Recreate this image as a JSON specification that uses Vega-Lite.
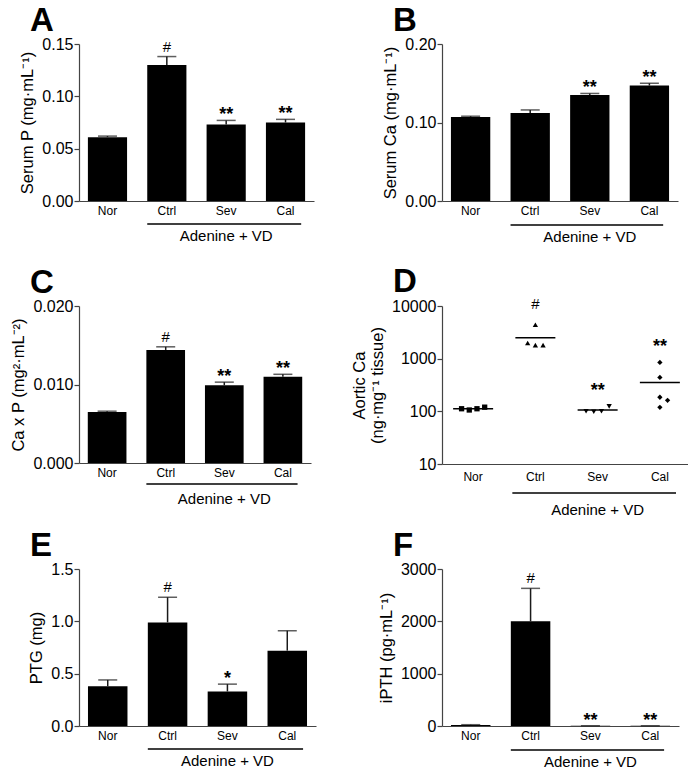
{
  "$schema": "https://vega.github.io/schema/vega-lite/v6.json",
  "background": "white",
  "padding": {"left": 10, "top": 5, "right": 0, "bottom": 0},
  "datasets": {
    "A": [
      {"group": "Nor", "mean": 0.061, "upper": 0.062, "sig": ""},
      {"group": "Ctrl", "mean": 0.130, "upper": 0.138, "sig": "#"},
      {"group": "Sev", "mean": 0.073, "upper": 0.077, "sig": "**"},
      {"group": "Cal", "mean": 0.075, "upper": 0.078, "sig": "**"}
    ],
    "B": [
      {"group": "Nor", "mean": 0.107, "upper": 0.108, "sig": ""},
      {"group": "Ctrl", "mean": 0.112, "upper": 0.116, "sig": ""},
      {"group": "Sev", "mean": 0.135, "upper": 0.137, "sig": "**"},
      {"group": "Cal", "mean": 0.147, "upper": 0.150, "sig": "**"}
    ],
    "C": [
      {"group": "Nor", "mean": 0.0065, "upper": 0.0066, "sig": ""},
      {"group": "Ctrl", "mean": 0.0144, "upper": 0.0148, "sig": "#"},
      {"group": "Sev", "mean": 0.0099, "upper": 0.0103, "sig": "**"},
      {"group": "Cal", "mean": 0.0110, "upper": 0.0113, "sig": "**"}
    ],
    "D": [
      {"group": "Nor", "value": 112, "jit": -1.5, "sig": ""},
      {"group": "Nor", "value": 106, "jit": -0.5, "sig": ""},
      {"group": "Nor", "value": 112, "jit": 0.5, "sig": ""},
      {"group": "Nor", "value": 120, "jit": 1.5, "sig": ""},
      {"group": "Ctrl", "value": 4420, "jit": 0, "sig": "#"},
      {"group": "Ctrl", "value": 1980, "jit": -1, "sig": "#"},
      {"group": "Ctrl", "value": 1810, "jit": 0, "sig": "#"},
      {"group": "Ctrl", "value": 1810, "jit": 1, "sig": "#"},
      {"group": "Sev", "value": 100, "jit": -1.5, "sig": "**"},
      {"group": "Sev", "value": 98, "jit": -0.5, "sig": "**"},
      {"group": "Sev", "value": 100, "jit": 0.5, "sig": "**"},
      {"group": "Sev", "value": 124, "jit": 1.5, "sig": "**"},
      {"group": "Cal", "value": 850, "jit": 0, "sig": "**"},
      {"group": "Cal", "value": 440, "jit": 0, "sig": "**"},
      {"group": "Cal", "value": 185, "jit": 0, "sig": "**"},
      {"group": "Cal", "value": 162, "jit": 1, "sig": "**"},
      {"group": "Cal", "value": 119, "jit": 0, "sig": "**"}
    ],
    "E": [
      {"group": "Nor", "mean": 0.38, "upper": 0.44, "sig": ""},
      {"group": "Ctrl", "mean": 0.99, "upper": 1.23, "sig": "#"},
      {"group": "Sev", "mean": 0.33, "upper": 0.40, "sig": "*"},
      {"group": "Cal", "mean": 0.72, "upper": 0.91, "sig": ""}
    ],
    "F": [
      {"group": "Nor", "mean": 20, "upper": 25, "sig": ""},
      {"group": "Ctrl", "mean": 2000, "upper": 2630, "sig": "#"},
      {"group": "Sev", "mean": 5, "upper": 5, "sig": "**"},
      {"group": "Cal", "mean": 5, "upper": 5, "sig": "**"}
    ],
    "cohort": [
      {"first": "Ctrl", "mid": "Sev", "last": "Cal", "label": "Adenine + VD"}
    ]
  },
  "columns": 2,
  "bounds": "flush",
  "align": "each",
  "spacing": {"row": 105, "column": 126},
  "concat": [
    {
      "width": 235, "height": 157,
      "title": "A",
      "data": {"name": "A"},
      "encoding": {"x": {"field": "group", "type": "nominal", "scale": {"type": "band", "domain": ["Nor", "Ctrl", "Sev", "Cal"], "paddingInner": 0.34, "paddingOuter": 0.15}, "axis": {"title": null}}},
      "layer": [
        {"mark": {"type": "bar", "color": "#000"}, "encoding": {"y": {"field": "mean", "type": "quantitative", "scale": {"domain": [0, 0.15], "nice": false}, "axis": {"values": [0, 0.05, 0.1, 0.15], "format": ".2f", "title": "Serum P (mg·mL⁻¹)"}}}},
        {"mark": {"type": "rule", "color": "#1a1a1a", "strokeWidth": 1.5}, "encoding": {"y": {"field": "mean", "type": "quantitative"}, "y2": {"field": "upper"}}},
        {"mark": {"type": "tick", "color": "#1a1a1a", "size": 19, "thickness": 1.5}, "encoding": {"y": {"field": "upper", "type": "quantitative"}}},
        {"mark": {"type": "text", "baseline": "alphabetic", "dy": {"expr": "datum.sig == '#' ? -5 : 0"}, "fontSize": {"expr": "datum.sig == '#' ? 15 : 18"}, "fontWeight": {"expr": "datum.sig == '#' ? 'normal' : 'bold'"}}, "encoding": {"y": {"field": "upper", "type": "quantitative"}, "text": {"field": "sig"}}},
        {"data": {"name": "cohort"}, "mark": {"type": "rule", "y": "height", "yOffset": 23, "strokeWidth": 1.5, "color": "#000"}, "encoding": {"x": {"field": "first", "type": "nominal", "bandPosition": 0}, "x2": {"field": "last", "bandPosition": 0.9}}},
        {"data": {"name": "cohort"}, "mark": {"type": "text", "y": "height", "yOffset": 35, "fontSize": 15, "baseline": "middle"}, "encoding": {"x": {"field": "mid", "type": "nominal"}, "text": {"field": "label"}}}
      ]
    },
    {
      "width": 236, "height": 157,
      "title": "B",
      "data": {"name": "B"},
      "encoding": {"x": {"field": "group", "type": "nominal", "scale": {"type": "band", "domain": ["Nor", "Ctrl", "Sev", "Cal"], "paddingInner": 0.34, "paddingOuter": 0.15}, "axis": {"title": null}}},
      "layer": [
        {"mark": {"type": "bar", "color": "#000"}, "encoding": {"y": {"field": "mean", "type": "quantitative", "scale": {"domain": [0, 0.2], "nice": false}, "axis": {"values": [0, 0.05, 0.1, 0.15, 0.2], "format": ".2f", "title": "Serum Ca (mg·mL⁻¹)"}}}},
        {"mark": {"type": "rule", "color": "#1a1a1a", "strokeWidth": 1.5}, "encoding": {"y": {"field": "mean", "type": "quantitative"}, "y2": {"field": "upper"}}},
        {"mark": {"type": "tick", "color": "#1a1a1a", "size": 19, "thickness": 1.5}, "encoding": {"y": {"field": "upper", "type": "quantitative"}}},
        {"mark": {"type": "text", "baseline": "alphabetic", "dy": {"expr": "datum.sig == '#' ? -5 : 0"}, "fontSize": {"expr": "datum.sig == '#' ? 15 : 18"}, "fontWeight": {"expr": "datum.sig == '#' ? 'normal' : 'bold'"}}, "encoding": {"y": {"field": "upper", "type": "quantitative"}, "text": {"field": "sig"}}},
        {"data": {"name": "cohort"}, "mark": {"type": "rule", "y": "height", "yOffset": 24, "strokeWidth": 1.5, "color": "#000"}, "encoding": {"x": {"field": "first", "type": "nominal", "bandPosition": 0}, "x2": {"field": "last", "bandPosition": 0.85}}},
        {"data": {"name": "cohort"}, "mark": {"type": "text", "y": "height", "yOffset": 36, "fontSize": 15, "baseline": "middle"}, "encoding": {"x": {"field": "mid", "type": "nominal"}, "text": {"field": "label"}}}
      ]
    },
    {
      "width": 232, "height": 157,
      "title": "C",
      "data": {"name": "C"},
      "encoding": {"x": {"field": "group", "type": "nominal", "scale": {"type": "band", "domain": ["Nor", "Ctrl", "Sev", "Cal"], "paddingInner": 0.34, "paddingOuter": 0.15}, "axis": {"title": null}}},
      "layer": [
        {"mark": {"type": "bar", "color": "#000"}, "encoding": {"y": {"field": "mean", "type": "quantitative", "scale": {"domain": [0, 0.02], "nice": false}, "axis": {"values": [0, 0.005, 0.01, 0.015, 0.02], "format": ".3f", "title": "Ca x P (mg²·mL⁻²)"}}}},
        {"mark": {"type": "rule", "color": "#1a1a1a", "strokeWidth": 1.5}, "encoding": {"y": {"field": "mean", "type": "quantitative"}, "y2": {"field": "upper"}}},
        {"mark": {"type": "tick", "color": "#1a1a1a", "size": 19, "thickness": 1.5}, "encoding": {"y": {"field": "upper", "type": "quantitative"}}},
        {"mark": {"type": "text", "baseline": "alphabetic", "dy": {"expr": "datum.sig == '#' ? -5 : 0"}, "fontSize": {"expr": "datum.sig == '#' ? 15 : 18"}, "fontWeight": {"expr": "datum.sig == '#' ? 'normal' : 'bold'"}}, "encoding": {"y": {"field": "upper", "type": "quantitative"}, "text": {"field": "sig"}}},
        {"data": {"name": "cohort"}, "mark": {"type": "rule", "y": "height", "yOffset": 21, "strokeWidth": 1.5, "color": "#000"}, "encoding": {"x": {"field": "first", "type": "nominal", "bandPosition": 0}, "x2": {"field": "last", "bandPosition": 0.88}}},
        {"data": {"name": "cohort"}, "mark": {"type": "text", "y": "height", "yOffset": 36, "fontSize": 15, "baseline": "middle"}, "encoding": {"x": {"field": "mid", "type": "nominal"}, "text": {"field": "label"}}}
      ]
    },
    {
      "width": 249, "height": 158,
      "title": "D",
      "data": {"name": "D"},
      "encoding": {"x": {"field": "group", "type": "nominal", "scale": {"type": "band", "domain": ["Nor", "Ctrl", "Sev", "Cal"], "paddingInner": 0.26, "paddingOuter": 0.13}, "axis": {"title": null, "labelPadding": 7}}},
      "layer": [
        {"mark": {"type": "point", "filled": true, "color": "#000", "opacity": 1, "size": 28, "xOffset": {"expr": "datum.jit * 7.7"}}, "encoding": {"y": {"field": "value", "type": "quantitative", "scale": {"type": "log", "domain": [10, 10000], "nice": false}, "axis": {"values": [10, 100, 1000, 10000], "format": "d", "title": ["Aortic Ca", "(ng·mg⁻¹ tissue)"], "titleLimit": 400}}, "shape": {"field": "group", "type": "nominal", "scale": {"domain": ["Nor", "Ctrl", "Sev", "Cal"], "range": ["square", "triangle-up", "triangle-down", "diamond"]}, "legend": null}}},
        {"mark": {"type": "tick", "color": "#000", "size": 40, "thickness": 1.5}, "encoding": {"y": {"aggregate": "mean", "field": "value", "type": "quantitative"}}},
        {"mark": {"type": "text", "baseline": "alphabetic", "dy": {"expr": "datum.sig == '#' ? -16 : -10"}, "fontSize": {"expr": "datum.sig == '#' ? 15 : 18"}, "fontWeight": {"expr": "datum.sig == '#' ? 'normal' : 'bold'"}}, "encoding": {"y": {"aggregate": "max", "field": "value", "type": "quantitative"}, "text": {"field": "sig"}}},
        {"data": {"name": "cohort"}, "mark": {"type": "rule", "y": "height", "yOffset": 29, "strokeWidth": 1.5, "color": "#000"}, "encoding": {"x": {"field": "first", "type": "nominal", "bandPosition": 0}, "x2": {"field": "last", "bandPosition": 0.85}}},
        {"data": {"name": "cohort"}, "mark": {"type": "text", "y": "height", "yOffset": 46, "fontSize": 15, "baseline": "middle"}, "encoding": {"x": {"field": "mid", "type": "nominal"}, "text": {"field": "label"}}}
      ]
    },
    {
      "width": 237, "height": 157,
      "title": "E",
      "data": {"name": "E"},
      "encoding": {"x": {"field": "group", "type": "nominal", "scale": {"type": "band", "domain": ["Nor", "Ctrl", "Sev", "Cal"], "paddingInner": 0.34, "paddingOuter": 0.15}, "axis": {"title": null}}},
      "layer": [
        {"mark": {"type": "bar", "color": "#000"}, "encoding": {"y": {"field": "mean", "type": "quantitative", "scale": {"domain": [0, 1.5], "nice": false}, "axis": {"values": [0, 0.5, 1, 1.5], "format": ".1f", "title": "PTG (mg)"}}}},
        {"mark": {"type": "rule", "color": "#1a1a1a", "strokeWidth": 1.5}, "encoding": {"y": {"field": "mean", "type": "quantitative"}, "y2": {"field": "upper"}}},
        {"mark": {"type": "tick", "color": "#1a1a1a", "size": 19, "thickness": 1.5}, "encoding": {"y": {"field": "upper", "type": "quantitative"}}},
        {"mark": {"type": "text", "baseline": "alphabetic", "dy": {"expr": "datum.sig == '#' ? -5 : 0"}, "fontSize": {"expr": "datum.sig == '#' ? 15 : 18"}, "fontWeight": {"expr": "datum.sig == '#' ? 'normal' : 'bold'"}}, "encoding": {"y": {"field": "upper", "type": "quantitative"}, "text": {"field": "sig"}}},
        {"data": {"name": "cohort"}, "mark": {"type": "rule", "y": "height", "yOffset": 23, "strokeWidth": 1.5, "color": "#000"}, "encoding": {"x": {"field": "first", "type": "nominal", "bandPosition": 0}, "x2": {"field": "last", "bandPosition": 0.9}}},
        {"data": {"name": "cohort"}, "mark": {"type": "text", "y": "height", "yOffset": 35, "fontSize": 15, "baseline": "middle"}, "encoding": {"x": {"field": "mid", "type": "nominal"}, "text": {"field": "label"}}}
      ]
    },
    {
      "width": 237, "height": 157,
      "title": "F",
      "data": {"name": "F"},
      "encoding": {"x": {"field": "group", "type": "nominal", "scale": {"type": "band", "domain": ["Nor", "Ctrl", "Sev", "Cal"], "paddingInner": 0.34, "paddingOuter": 0.15}, "axis": {"title": null}}},
      "layer": [
        {"mark": {"type": "bar", "color": "#000"}, "encoding": {"y": {"field": "mean", "type": "quantitative", "scale": {"domain": [0, 3000], "nice": false}, "axis": {"values": [0, 1000, 2000, 3000], "format": "d", "title": "iPTH (pg·mL⁻¹)"}}}},
        {"mark": {"type": "rule", "color": "#1a1a1a", "strokeWidth": 1.5}, "encoding": {"y": {"field": "mean", "type": "quantitative"}, "y2": {"field": "upper"}}},
        {"mark": {"type": "tick", "color": "#1a1a1a", "size": 19, "thickness": 1.5}, "encoding": {"y": {"field": "upper", "type": "quantitative"}}},
        {"mark": {"type": "text", "baseline": "alphabetic", "dy": {"expr": "datum.sig == '#' ? -5 : 0"}, "fontSize": {"expr": "datum.sig == '#' ? 15 : 18"}, "fontWeight": {"expr": "datum.sig == '#' ? 'normal' : 'bold'"}}, "encoding": {"y": {"field": "upper", "type": "quantitative"}, "text": {"field": "sig"}}},
        {"data": {"name": "cohort"}, "mark": {"type": "rule", "y": "height", "yOffset": 24, "strokeWidth": 1.5, "color": "#000"}, "encoding": {"x": {"field": "first", "type": "nominal", "bandPosition": 0}, "x2": {"field": "last", "bandPosition": 0.85}}},
        {"data": {"name": "cohort"}, "mark": {"type": "text", "y": "height", "yOffset": 36, "fontSize": 15, "baseline": "middle"}, "encoding": {"x": {"field": "mid", "type": "nominal"}, "text": {"field": "label"}}}
      ]
    }
  ],
  "config": {
    "font": "Liberation Sans",
    "view": {"stroke": null},
    "axis": {"domainColor": "#444", "tickColor": "#444", "labelColor": "#000", "titleColor": "#000", "grid": false, "labelFont": "Liberation Sans", "titleFont": "Liberation Sans", "titleFontWeight": "normal", "domainWidth": 1.2, "tickWidth": 1.2},
    "axisY": {"labelFontSize": 16, "titleFontSize": 16.5, "tickSize": 5, "labelPadding": 1, "titlePadding": 6, "titleLimit": 400},
    "axisX": {"labelFontSize": 12, "ticks": false, "labelAngle": 0, "labelPadding": 4},
    "title": {"anchor": "start", "frame": "group", "dx": -49, "fontSize": 33, "fontWeight": "bold", "font": "Liberation Sans", "offset": -2, "color": "#000"},
    "text": {"font": "Liberation Sans", "color": "#000"}
  }
}
